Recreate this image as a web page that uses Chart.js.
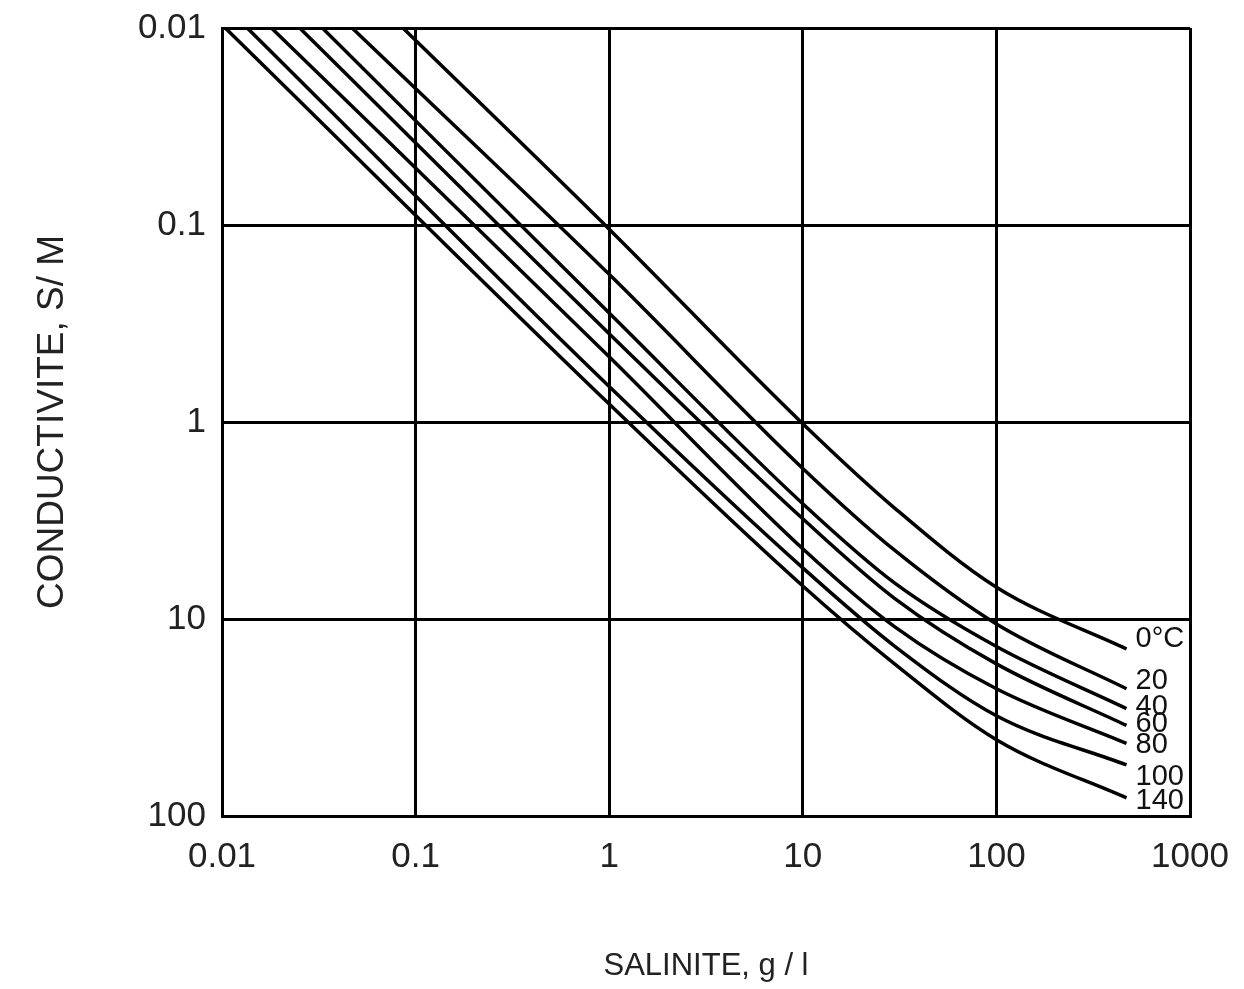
<!DOCTYPE html>
<html>
<head>
<meta charset="utf-8">
<script src="https://cdn.jsdelivr.net/npm/chart.js@4/dist/chart.umd.min.js"></script>
<style>
  html, body { margin: 0; padding: 0; background: #fff; }
  #wrap { width: 1244px; height: 989px; }
</style>
</head>
<body>
<div id="wrap"><canvas id="condChart" width="1244" height="989"></canvas></div>
<script>
// temperature curves, salinity (g/l) vs conductivity (S/m)
const temps = ['0°C', '20', '40', '60', '80', '100', '140'];
// salinity where each curve leaves the top edge (0.01)
const startSalinity = [0.086, 0.047, 0.033, 0.0252, 0.018, 0.0135, 0.0104];
const salinity = [1, 10, 30, 100, 470];
const cond0   = [0.105, 1.02, 2.75, 6.9, 14.2];
const cond20  = [0.178, 1.72, 4.5, 10.6, 22.6];
const cond40  = [0.28, 2.6, 6.6, 13.8, 28.5];
const cond60  = [0.356, 3.1, 7.9, 16.9, 34.7];
const cond80  = [0.466, 4.4, 11, 22.6, 42.8];
const cond100 = [0.66, 5.5, 13.8, 31, 55];
const cond140 = [0.81, 6.8, 17, 41, 81];
const allCond = [cond0, cond20, cond40, cond60, cond80, cond100, cond140];

const xTicks = [0.01, 0.1, 1, 10, 100, 1000];
const xTickLabels = ['0.01', '0.1', '1', '10', '100', '1000'];
const yTicks = [0.01, 0.1, 1, 10, 100];
const yTickLabels = ['0.01', '0.1', '1', '10', '100'];

// vertical nudge of each curve label, px
const labelNudge = [-10, -8, -2, -1, 2, 12, 3];

const FAMILY = '"Liberation Sans", Arial, sans-serif';

const datasets = temps.map((t, i) => ({
    label: t,
    data: [{ x: startSalinity[i], y: 0.01 }].concat(
        salinity.map((s, j) => ({ x: s, y: allCond[i][j] }))),
    borderColor: '#000',
    borderWidth: 3.5,
    pointRadius: 0,
    fill: false,
    cubicInterpolationMode: 'monotone',
}));

// writes the temperature next to the end of each curve
const curveLabels = {
    id: 'curveLabels',
    afterDatasetsDraw(chart) {
        const ctx = chart.ctx;
        ctx.save();
        ctx.font = '29px ' + FAMILY;
        ctx.fillStyle = '#111';
        ctx.textBaseline = 'middle';
        chart.data.datasets.forEach((ds, i) => {
            const meta = chart.getDatasetMeta(i);
            const last = meta.data[meta.data.length - 1];
            ctx.fillText(ds.label, last.x + 9, last.y + labelNudge[i]);
        });
        ctx.restore();
    }
};

const tickFont = { family: FAMILY, size: 35 };

// keep tick labels from pushing the plot area inwards
function noOverflow(s) {
    s.paddingLeft = 0;
    s.paddingRight = 0;
    s.paddingTop = 0;
    s.paddingBottom = 0;
}

new Chart(document.getElementById('condChart').getContext('2d'), {
    type: 'line',
    data: { datasets },
    plugins: [curveLabels],
    options: {
        responsive: false,
        animation: false,
        layout: { padding: { top: 28, right: 54, left: 0, bottom: 0 } },
        plugins: { legend: { display: false }, tooltip: { enabled: false } },
        scales: {
            x: {
                type: 'logarithmic',
                min: 0.01,
                max: 1000,
                afterBuildTicks: s => { s.ticks = xTicks.map(v => ({ value: v })); },
                afterFit: s => { s.height = 173; noOverflow(s); },
                ticks: {
                    color: '#222',
                    font: tickFont,
                    padding: 20,
                    maxRotation: 0,
                    autoSkip: false,
                    callback: (v, i) => xTickLabels[i],
                },
                grid: { color: '#000', lineWidth: 3, drawTicks: false },
                border: { color: '#000', width: 3 },
                title: {
                    display: true,
                    text: 'SALINITE, g / l',
                    color: '#222',
                    font: { family: FAMILY, size: 31 },
                    padding: { top: 0, bottom: 4 },
                },
            },
            y: {
                type: 'logarithmic',
                reverse: true,
                min: 0.01,
                max: 100,
                afterBuildTicks: s => { s.ticks = yTicks.map(v => ({ value: v })); },
                afterFit: s => { s.width = 222; noOverflow(s); },
                ticks: {
                    color: '#222',
                    font: tickFont,
                    padding: 16,
                    autoSkip: false,
                    callback: (v, i) => yTickLabels[i],
                },
                grid: { color: '#000', lineWidth: 3, drawTicks: false },
                border: { color: '#000', width: 3 },
                title: {
                    display: true,
                    text: 'CONDUCTIVITE, S/ M',
                    color: '#222',
                    font: { family: FAMILY, size: 37 },
                    padding: { top: 31, bottom: 0 },
                },
            },
        },
    },
});
</script>
</body>
</html>
